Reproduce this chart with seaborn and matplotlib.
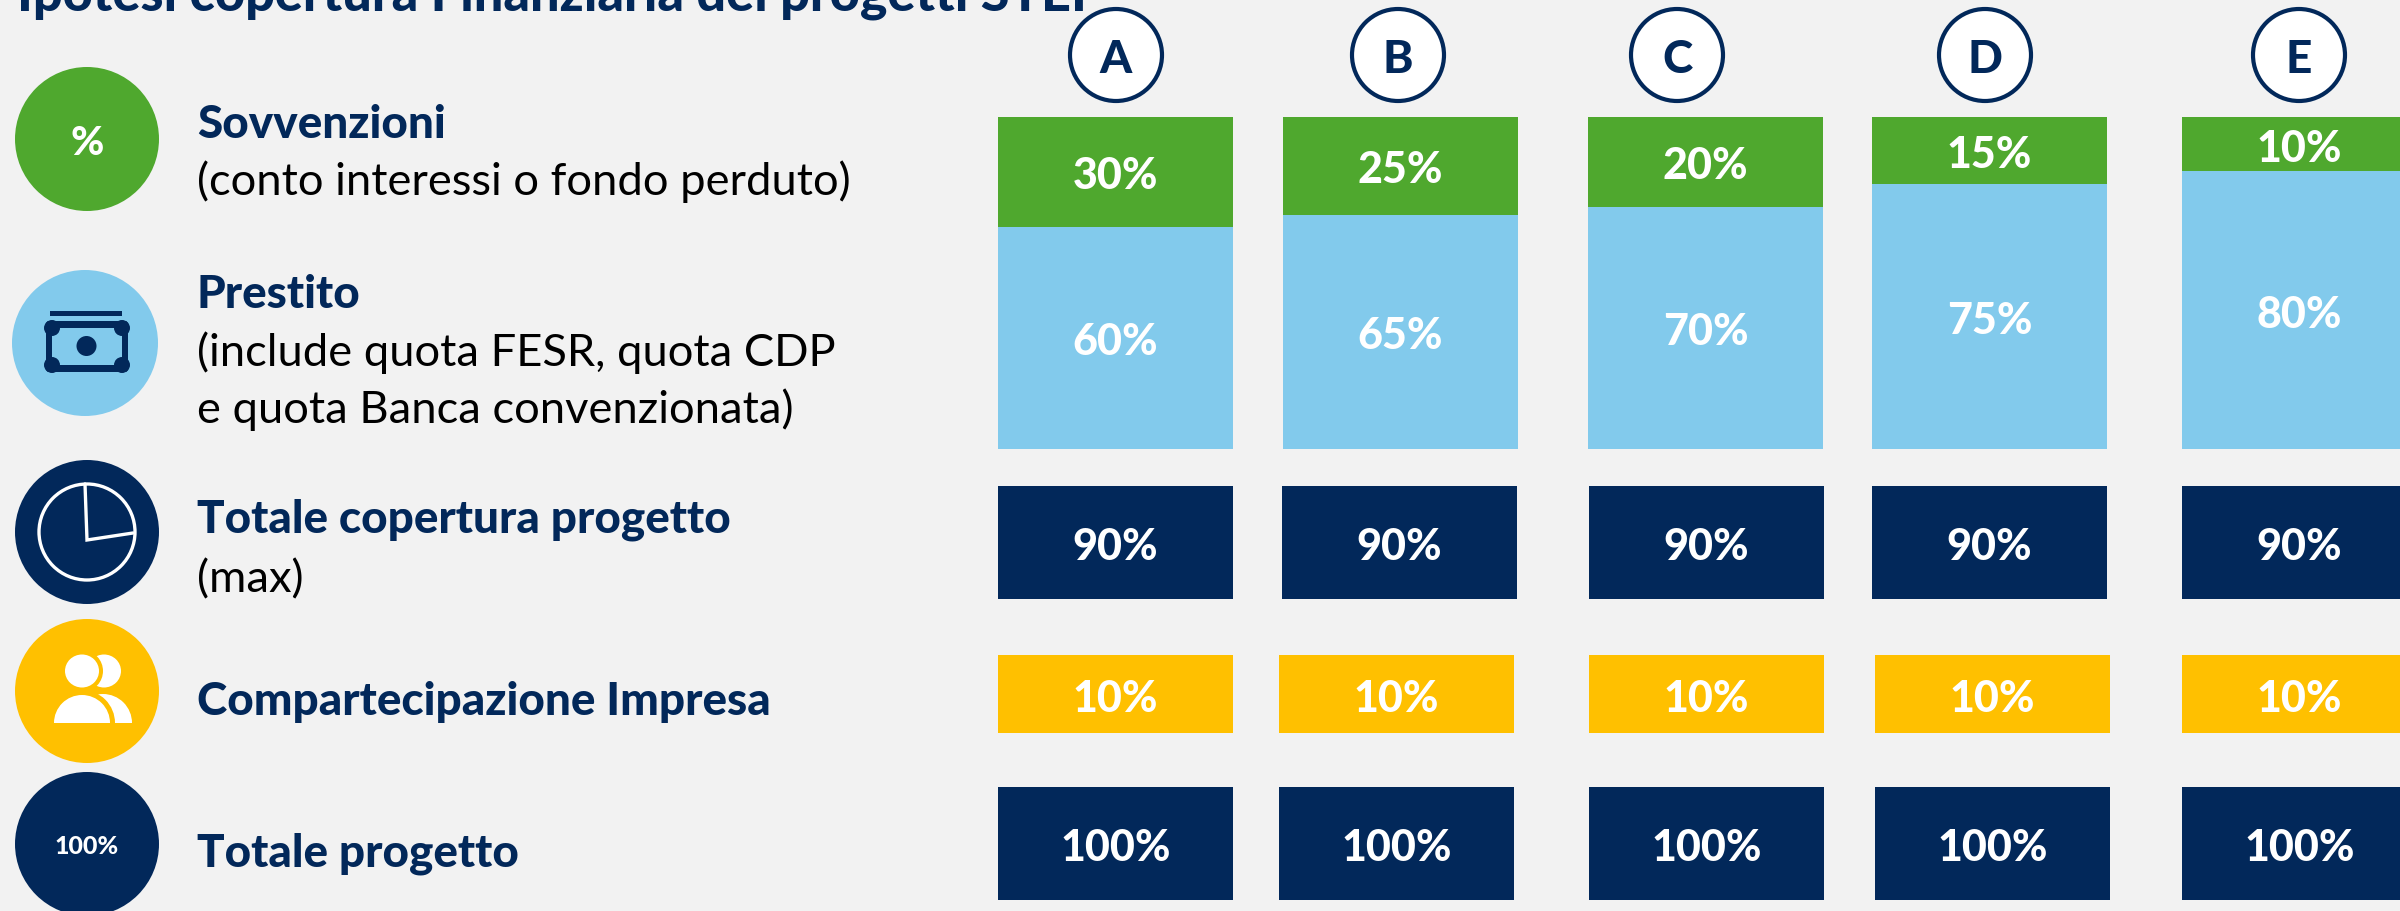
import numpy as np
import pandas as pd
import seaborn as sns
import matplotlib
matplotlib.use("Agg")
import matplotlib.pyplot as plt
from matplotlib.patches import Circle, Ellipse, Rectangle, Wedge, FancyBboxPatch

# 1. Data
SCENARI = ["A", "B", "C", "D", "E"]
SOVVENZIONI = [30, 25, 20, 15, 10]
PRESTITO = [60, 65, 70, 75, 80]
COPERTURA = [90, 90, 90, 90, 90]
COMPARTECIPAZIONE = [10, 10, 10, 10, 10]
TOTALE = [100, 100, 100, 100, 100]

# the stacked bars are not to scale in the original, so these are the shares as drawn (% of stack)
SOVVENZIONI_DISEGNATE = [33.1, 29.4, 27.1, 20.2, 16.3]
PRESTITO_DISEGNATO = [66.9, 70.6, 72.9, 79.8, 83.7]

TITOLO = "Ipotesi copertura Finanziaria dei progetti STEP"

VOCI = [
    ("Sovvenzioni", True, 138),
    ("(conto interessi o fondo perduto)", False, 195),
    ("Prestito", True, 308),
    ("(include quota FESR, quota CDP", False, 366),
    ("e quota Banca convenzionata)", False, 423),
    ("Totale copertura progetto", True, 533),
    ("(max)", False, 592),
    ("Compartecipazione Impresa", True, 715),
    ("Totale progetto", True, 867),
]

# 2. Layout, in pixels of the 2400x912 canvas
W, H = 2400, 912
BAR_W = 235
X_STACK = [998, 1283, 1588, 1872, 2182]
X_COPERTURA = [998, 1282, 1589, 1872, 2182]
X_BASSO = [998, 1279, 1589, 1875, 2182]
BADGE_X = [1116, 1398, 1677, 1985, 2299]

BG = "#F2F2F2"
GREEN = "#4FA82E"
BLUE = "#82CAEC"
NAVY = "#02285A"
YELLOW = "#FFC000"

sns.set_theme(style="white")
plt.rcParams["font.family"] = ["Lato", "DejaVu Sans"]

fig = plt.figure(figsize=(W / 100, H / 100), dpi=100, facecolor=BG)


def cell_ax(x0, y0, x1, y1):
    ax = fig.add_axes([x0 / W, 1 - y1 / H, (x1 - x0) / W, (y1 - y0) / H])
    ax.axis("off")
    return ax


def draw_cell(x0, y0, y1, name, value, color, size=31):
    ax = cell_ax(x0, y0, x0 + BAR_W, y1)
    sns.barplot(x=[name], y=[value], color=color, saturation=1, width=1,
                linewidth=0, errorbar=None, ax=ax)
    ax.set_xlim(-0.5, 0.5)
    ax.set_ylim(0, value)
    ax.axis("off")
    labels = ax.bar_label(ax.containers[0], labels=[f"{value}%"], label_type="center",
                          color="white", fontweight=900, fontsize=size)
    labels[0].set_va("center_baseline")


# 3. Bars
for i, name in enumerate(SCENARI):
    ax = cell_ax(X_STACK[i], 118, X_STACK[i] + BAR_W, 450)
    stack = SOVVENZIONI_DISEGNATE[i] + PRESTITO_DISEGNATO[i]
    sns.barplot(x=[name], y=[stack], color=GREEN, saturation=1, width=1,
                linewidth=0, errorbar=None, ax=ax)
    sns.barplot(x=[name], y=[PRESTITO_DISEGNATO[i]], color=BLUE, saturation=1, width=1,
                linewidth=0, errorbar=None, ax=ax)
    ax.set_xlim(-0.5, 0.5)
    ax.set_ylim(0, stack)
    ax.axis("off")
    ax.text(0, PRESTITO_DISEGNATO[i] + SOVVENZIONI_DISEGNATE[i] / 2, f"{SOVVENZIONI[i]}%",
            ha="center", va="center_baseline", color="white", fontweight=900, fontsize=31)
    ax.text(0, PRESTITO_DISEGNATO[i] / 2, f"{PRESTITO[i]}%",
            ha="center", va="center_baseline", color="white", fontweight=900, fontsize=31)

    draw_cell(X_COPERTURA[i], 487, 600, name, COPERTURA[i], NAVY)
    draw_cell(X_BASSO[i], 656, 734, name, COMPARTECIPAZIONE[i], YELLOW)
    draw_cell(X_BASSO[i], 788, 901, name, TOTALE[i], NAVY)

# 4. Overlay in pixel coordinates: texts and icons
over = fig.add_axes([0, 0, 1, 1], facecolor="none")
over.set_xlim(0, W)
over.set_ylim(H, 0)
over.axis("off")

over.text(17, 10, TITOLO, color=NAVY, fontweight=900, fontsize=37.5, va="baseline")

for testo, bold, y in VOCI:
    over.text(197, y, testo, va="baseline", fontsize=33 if bold else 32.6,
              color=NAVY if bold else "black",
              fontweight=900 if bold else "normal")

for x, name in zip(BADGE_X, SCENARI):
    over.add_patch(Circle((x, 56), 46, fc="white", ec=NAVY, lw=3))
    over.text(x, 56, name, ha="center", va="center_baseline", color=NAVY,
              fontweight=900, fontsize=33)

# green icon
over.add_patch(Circle((87, 140), 72, fc=GREEN, ec="none"))
over.text(87, 140, "%", ha="center", va="center_baseline", color="white", fontweight=900, fontsize=29)

# banknote icon
over.add_patch(Circle((85, 344), 73, fc=BLUE, ec="none"))
over.add_patch(Rectangle((50, 312), 72, 5, fc=NAVY, ec="none"))
over.add_patch(FancyBboxPatch((48, 324), 78, 47, boxstyle="round,pad=2,rounding_size=3", fc=NAVY, ec="none"))
over.add_patch(Rectangle((52, 329), 70, 37, fc=BLUE, ec="none"))
for cx in (52, 122):
    for cy in (329, 366):
        over.add_patch(Circle((cx, cy), 8, fc=NAVY, ec="none"))
over.add_patch(Circle((86.5, 347), 10, fc=NAVY, ec="none"))

# clock icon
over.add_patch(Circle((87, 533), 72, fc=NAVY, ec="none"))
over.add_patch(Circle((87, 533), 48, fc="none", ec="white", lw=2.4))
over.plot([85, 87, 133], [485, 541, 534], color="white", lw=2.4, solid_joinstyle="miter")

# people icon
over.add_patch(Circle((87, 692), 72, fc=YELLOW, ec="none"))
over.add_patch(Ellipse((104, 672), 34, 33, fc="white", ec="none"))
over.add_patch(Wedge((103, 724), 29, 180, 360, fc="white", ec="none"))
over.add_patch(Ellipse((84, 672), 38, 40, fc=YELLOW, ec="none"))
over.add_patch(Wedge((82, 724), 33, 180, 360, fc=YELLOW, ec="none"))
over.add_patch(Ellipse((82, 672), 34, 33, fc="white", ec="none"))
over.add_patch(Wedge((82, 724), 28, 180, 360, fc="white", ec="none"))

# 100% icon
over.add_patch(Circle((87, 845), 72, fc=NAVY, ec="none"))
over.text(87, 845, "100%", ha="center", va="center_baseline", color="white", fontweight=900, fontsize=18)

fig.savefig("out.png", dpi=100, facecolor=BG)
